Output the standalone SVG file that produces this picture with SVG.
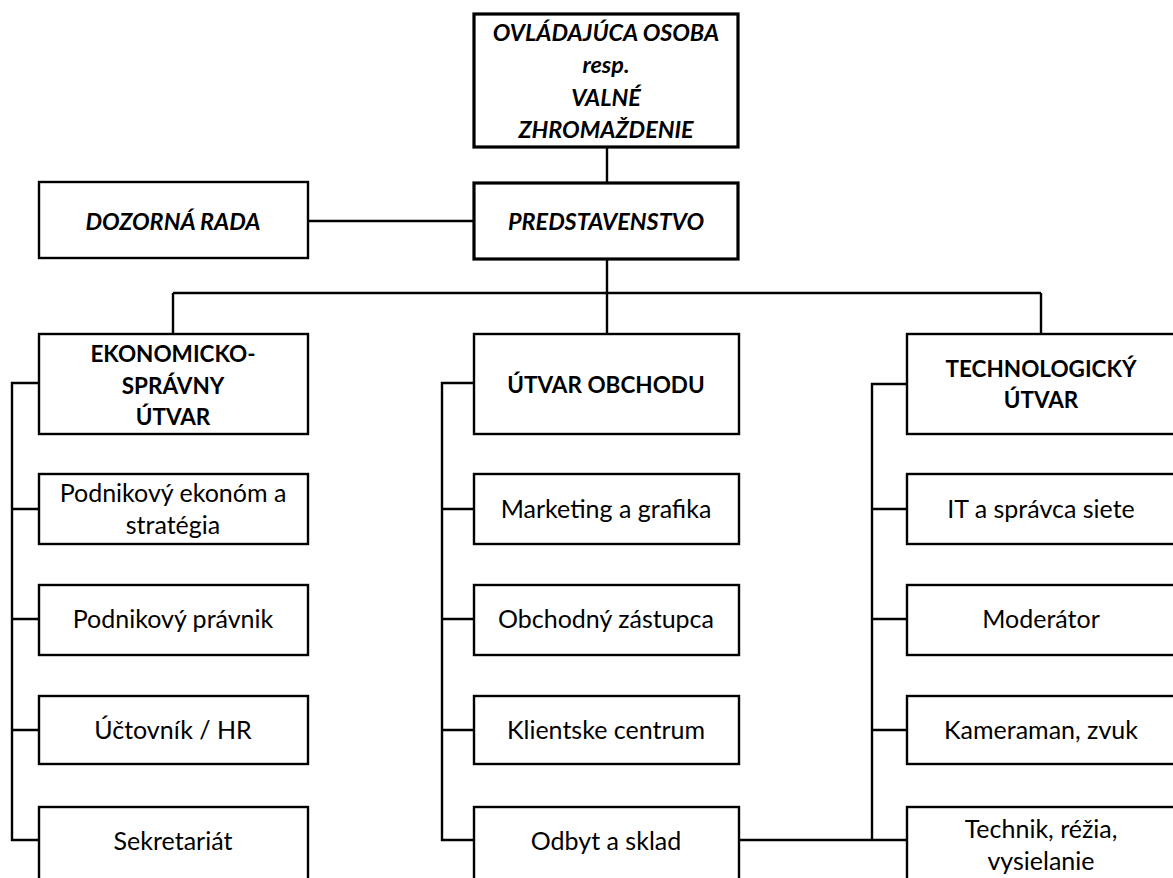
<svg xmlns="http://www.w3.org/2000/svg" width="1173" height="878" viewBox="0 0 1173 878">
<style>
.box{fill:#fff;stroke:#000;stroke-width:2.4}
.boxt{fill:#fff;stroke:#000;stroke-width:3.2}
.ln{fill:none;stroke:#000;stroke-width:2.4}
text{font-family:Lato,"Liberation Sans",sans-serif;font-size:25px;fill:#000;text-anchor:middle}
.b{font-weight:bold;font-size:22.5px}
.bi{font-weight:bold;font-style:italic;font-size:23.4px}
</style>
<rect width="1173" height="878" fill="#fff"/>
<g id="connectors">
<path class="ln" d="M607,147V183M308,221H474M607,259V334M173,293H1041M173,293V334M1041,293V334"/>
<path class="ln" d="M39,383H12V840H39M12,509H39M12,619H39M12,730H39"/>
<path class="ln" d="M474,383H442V840H474M442,509H474M442,619H474M442,730H474"/>
<path class="ln" d="M907,384H872V840M872,509H907M872,619H907M872,730H907M739,840H907"/>
</g>
<g id="n-valne"><rect class="boxt" x="474" y="14" width="264" height="133"/>
<text class="bi" x="606" y="41">OVLÁDAJÚCA OSOBA</text><text class="bi" x="606" y="73">resp.</text><text class="bi" x="606" y="106">VALNÉ</text><text class="bi" x="606" y="138">ZHROMAŽDENIE</text></g>
<g id="n-predstavenstvo"><rect class="boxt" x="474" y="183" width="264" height="76"/><text class="bi" x="606" y="230">PREDSTAVENSTVO</text></g>
<g id="n-dozorna"><rect class="box" x="39" y="182" width="269" height="76"/><text class="bi" x="173" y="230">DOZORNÁ RADA</text></g>
<g id="n-ekon"><rect class="box" x="39" y="334" width="269" height="100"/><text class="b" x="173" y="362">EKONOMICKO-</text><text class="b" x="173" y="394">SPRÁVNY</text><text class="b" x="173" y="425">ÚTVAR</text></g>
<g id="n-obchod"><rect class="box" x="474" y="334" width="265" height="100"/><text class="b" x="606" y="393">ÚTVAR OBCHODU</text></g>
<g id="n-tech"><rect class="box" x="907" y="334" width="268" height="100"/><text class="b" x="1041" y="377">TECHNOLOGICKÝ</text><text class="b" x="1041" y="408">ÚTVAR</text></g>
<g id="n-ekonom"><rect class="box" x="39" y="474" width="269" height="70"/><text x="173" y="502">Podnikový ekonóm a</text><text x="173" y="534">stratégia</text></g>
<g id="n-pravnik"><rect class="box" x="39" y="585" width="269" height="70"/><text x="173" y="628">Podnikový právnik</text></g>
<g id="n-uctovnik"><rect class="box" x="39" y="696" width="269" height="68"/><text x="173" y="739">Účtovník / HR</text></g>
<g id="n-sekretariat"><rect class="box" x="39" y="807" width="269" height="80"/><text x="173" y="850">Sekretariát</text></g>
<g id="n-marketing"><rect class="box" x="474" y="474" width="265" height="70"/><text x="606" y="518">Marketing a grafika</text></g>
<g id="n-zastupca"><rect class="box" x="474" y="585" width="265" height="70"/><text x="606" y="628">Obchodný zástupca</text></g>
<g id="n-klient"><rect class="box" x="474" y="696" width="265" height="68"/><text x="606" y="739">Klientske centrum</text></g>
<g id="n-odbyt"><rect class="box" x="474" y="807" width="265" height="80"/><text x="606" y="850">Odbyt a sklad</text></g>
<g id="n-it"><rect class="box" x="907" y="474" width="268" height="70"/><text x="1041" y="518">IT a správca siete</text></g>
<g id="n-moderator"><rect class="box" x="907" y="585" width="268" height="70"/><text x="1041" y="628">Moderátor</text></g>
<g id="n-kameraman"><rect class="box" x="907" y="696" width="268" height="68"/><text x="1041" y="739">Kameraman, zvuk</text></g>
<g id="n-technik"><rect class="box" x="907" y="807" width="268" height="80"/><text x="1041" y="838">Technik, réžia,</text><text x="1041" y="870">vysielanie</text></g>
</svg>
